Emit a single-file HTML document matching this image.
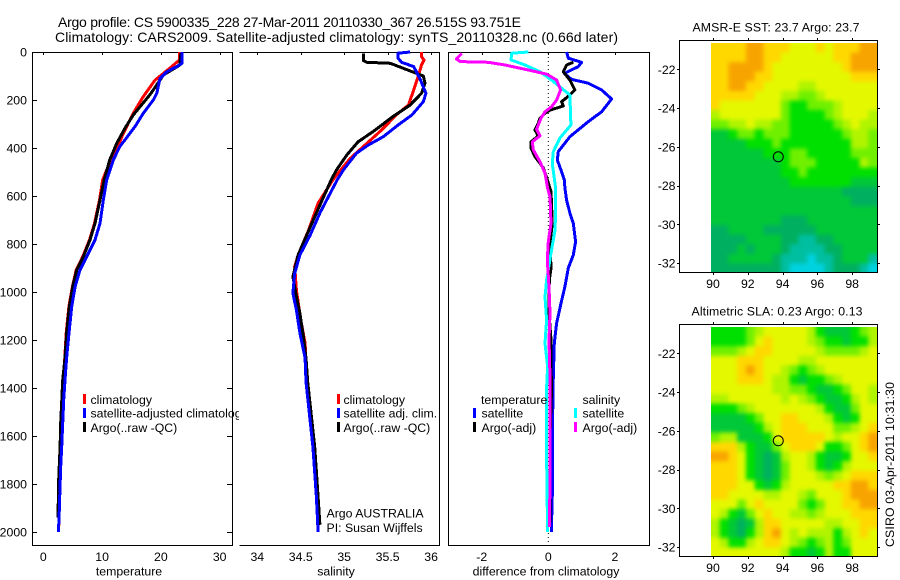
<!DOCTYPE html>
<html lang="en">
<head>
<meta charset="utf-8">
<title>Argo profile</title>
<style>
html,body{margin:0;padding:0;background:#fff;}
svg{display:block;}
text{font-family:"Liberation Sans",sans-serif;font-size:12.3px;fill:#000;}
</style>
</head>
<body>
<svg id="chart" xmlns="http://www.w3.org/2000/svg" width="900" height="580" viewBox="0 0 900 580">
  <defs>
    <clipPath id="legend-clip"><rect x="0" y="380" width="239" height="70"/></clipPath>
    <clipPath id="sst-clip"><rect x="711" y="43" width="166" height="230"/></clipPath>
    <clipPath id="sla-clip"><rect x="711" y="327" width="166" height="230"/></clipPath>
    <filter id="map-smooth" x="-10%" y="-10%" width="120%" height="120%" color-interpolation-filters="sRGB">
      <feGaussianBlur stdDeviation="2.2"/>
    </filter>
  </defs>
  <text x="58" y="27" textLength="463" style="font-size:14px">Argo profile: CS 5900335_228 27-Mar-2011 20110330_367 26.515S 93.751E</text>
  <text x="55" y="42" textLength="563" style="font-size:14px">Climatology: CARS2009. Satellite-adjusted climatology: synTS_20110328.nc (0.66d later)</text>

  <g id="panels"></g>

  <g clip-path="url(#legend-clip)">
    <rect x="83" y="394" width="3" height="10" fill="#f00"/>
    <rect x="83" y="408" width="3" height="10" fill="#00f"/>
    <rect x="83" y="422" width="3" height="10" fill="#000"/>
    <text x="90.5" y="404">climatology</text>
    <text x="90.5" y="417.5">satellite-adjusted climatology</text>
    <text x="90.5" y="432">Argo(..raw -QC)</text>
  </g>
  <g>
    <rect x="337" y="394" width="3" height="10" fill="#f00"/>
    <rect x="337" y="408" width="3" height="10" fill="#00f"/>
    <rect x="337" y="422" width="3" height="10" fill="#000"/>
    <text x="343.5" y="404">climatology</text>
    <text x="343.5" y="417.5">satellite adj. clim.</text>
    <text x="343.5" y="432">Argo(..raw -QC)</text>
  </g>
  <text x="326.5" y="517.5">Argo AUSTRALIA</text>
  <text x="326.5" y="532">PI: Susan Wijffels</text>
  <g>
    <text x="481" y="404">temperature</text>
    <rect x="473" y="408" width="3" height="10" fill="#00f"/>
    <text x="481.5" y="417.5">satellite</text>
    <rect x="473" y="422" width="3" height="10" fill="#000"/>
    <text x="481.5" y="432">Argo(-adj)</text>
    <text x="582.5" y="404">salinity</text>
    <rect x="574" y="408" width="3" height="10" fill="#0ff"/>
    <text x="582.5" y="417.5">satellite</text>
    <rect x="574" y="422" width="3" height="10" fill="#f0f"/>
    <text x="582.5" y="432">Argo(-adj)</text>
  </g>

  <g id="maps"></g>

  <text transform="translate(894,547) rotate(-90)" textLength="165">CSIRO 03-Apr-2011 10:31:30</text>
</svg>

<script>
// ---------- Depth ticks ----------
const depthTicks = [0,200,400,600,800,1000,1200,1400,1600,1800,2000];

// ---------- Temperature panel ----------
const tempTicks = [0,10,20,30];
const tempClimDepth = [0,32,68,117,186,255,339,422,478,533,617,714,783,853,908,978,1061,1171,1275,1400,1600,1800,2000];
const tempClimValue = [23.2,23.2,21.5,19,17,15.3,13.6,12.2,11,10.1,9.55,8.7,7.85,6.7,5.6,4.95,4.35,3.9,3.65,3.3,3,2.8,2.6];
const tempArgoDepth = [5,55,96,137,179,221,262,317,380,450,533,617,714,783,853,908,978,1061,1171,1275,1367,1546,1645,1780,1940];
const tempArgoValue = [23.4,23.2,20.4,19.3,18.1,16.7,15.3,13.9,12.5,11.3,10.35,9.64,8.8,7.94,6.8,5.68,5,4.42,3.97,3.69,3.3,2.96,2.85,2.62,2.5];
const tempSatDepth = [0,47,61,82,110,172,200,255,311,346,395,450,533,617,714,783,853,908,978,1061,1171,1275,1367,1450,1546,1645,1728,1854,1950,2000];
const tempSatValue = [23.6,23.6,22.7,21,19.85,19.3,18.7,17,15.6,14.5,13,11.9,10.78,10.2,9.64,8.8,7.38,6.24,5.4,4.83,4.37,3.97,3.69,3.47,3.3,3.13,2.96,2.79,2.67,2.55];

// ---------- Salinity panel ----------
const salTicks = [34,34.5,35,35.5,36];
const salClimDepth = [0,20,33,54,103,158,221,262,325,394,443,505,533,630,742,846,894,992,1117,1213,1375,1645,1854,2000];
const salClimValue = [35.89,35.89,35.92,35.89,35.85,35.8,35.74,35.6,35.43,35.22,35.07,34.93,34.87,34.7,34.59,34.47,34.43,34.45,34.5,34.55,34.57,34.64,34.68,34.7];
const salArgoDepth = [6,36,43,47,68,100,130,172,221,269,332,374,429,492,533,671,762,846,936,1019,1089,1186,1275,1375,1645,1854,1970];
const salArgoValue = [35.22,35.22,35.26,35.53,35.68,35.91,35.93,35.89,35.76,35.56,35.33,35.16,35.03,34.91,34.85,34.68,34.57,34.47,34.41,34.45,34.49,34.53,34.56,34.58,34.66,34.7,34.72];
const salSatDepth = [0,5,26,43,61,110,172,207,262,304,353,387,422,492,533,671,762,846,922,1005,1075,1171,1275,1375,1645,1854,2000];
const salSatValue = [35.76,35.62,35.62,35.66,35.8,35.87,35.94,35.91,35.78,35.62,35.45,35.28,35.14,34.99,34.92,34.72,34.61,34.49,34.43,34.41,34.45,34.49,34.55,34.56,34.64,34.68,34.7];

// ---------- Difference panel ----------
const diffTicks = [-2,0,2];
const diffTempSatDepth = [0,26,43,61,89,114,130,158,196,249,290,353,415,450,499,533,567,617,671,714,790,846,900,978,1047,1130,1213,1353,1600,1800,2000];
const diffTempSatValue = [0.55,0.6,1,0.9,0.48,0.7,1.2,1.6,1.9,1.6,1.2,0.65,0.3,0.27,0.4,0.48,0.5,0.55,0.65,0.75,0.82,0.75,0.6,0.5,0.38,0.25,0.18,0.15,0.12,0.13,0.09];
const diffTempArgoDepth = [43,54,82,117,158,179,207,225,242,255,276,297,325,350,374,401,436,483,546,582,714,796,900,950,1088,1200,1311,1400,1600,1960];
const diffTempArgoValue = [0.75,0.55,0.45,0.65,0.8,0.65,0.4,0.45,0.05,-0.1,-0.25,-0.3,-0.4,-0.3,-0.52,-0.52,-0.4,-0.15,0,0.08,0.12,0.05,0.08,0.03,0.02,0.08,0.08,0.1,0.05,0.05];
const diffSalSatDepth = [0,5,33,54,82,117,179,304,358,415,464,567,671,742,838,950,1020,1117,1213,1311,1400,1690,2000];
const diffSalSatValue = [-0.6,-1.1,-1.12,-0.7,-0.25,0.1,0.65,0.68,0.35,0.15,0.12,0.22,0.22,0.2,0.08,-0.05,-0.1,-0.05,-0.1,-0.02,-0.05,-0.05,-0.02];
const diffSalArgoDepth = [6,29,40,43,54,75,92,117,158,200,228,249,276,322,349,374,408,457,505,567,603,714,790,867,978,1089,1200,1353,1600,1800,1980];
const diffSalArgoValue = [-2.6,-2.76,-2.64,-1.8,-1.3,-0.6,-0.05,0.25,0.37,0.25,0.1,-0.1,-0.22,-0.35,-0.25,-0.48,-0.45,-0.25,-0.1,-0.02,0.05,0.08,0,-0.03,0.02,0.05,0.02,0.05,0.05,0.05,0.03];

// ---------- Map axes ----------
const lonTicks = [90,92,94,96,98];
const latTicks = [-22,-24,-26,-28,-30,-32];
const floatLon = [93.751];
const floatLat = [-26.515];

// ---------- Map values (colour level 0 = coolest/lowest, 9 = warmest/highest) ----------
const levelColors = ['#00d2e0','#00bea0','#00b060','#00c838','#00e000','#70f000','#b0f400','#e4f800','#ffd800','#f8a400'];
const sstGrid = [
[8,8,8,8,9,9,8,8,8,7,7,7,8,7,8,8,8,9,9],
[8,8,8,8,9,9,8,8,7,7,7,7,7,7,8,8,9,9,9],
[8,8,9,9,9,9,8,7,7,7,7,7,7,7,7,8,9,9,9],
[8,8,9,9,9,8,8,7,7,7,7,7,7,7,7,7,8,8,8],
[8,8,9,9,8,8,7,7,7,7,6,6,7,7,7,7,7,7,7],
[8,8,8,8,8,7,7,7,6,6,5,5,6,7,7,7,7,7,7],
[8,7,7,7,7,7,7,7,5,4,4,5,5,5,6,7,7,7,7],
[6,7,7,7,7,7,7,7,5,4,4,4,4,5,6,7,7,7,6],
[5,5,6,6,7,6,6,5,5,4,4,4,4,4,5,6,7,6,6],
[3,3,4,5,5,4,5,5,5,4,4,4,4,4,4,5,6,6,5],
[3,3,3,3,4,4,4,5,4,4,4,4,4,4,4,4,6,6,5],
[3,3,3,3,3,3,4,4,4,5,5,4,4,4,4,4,5,5,5],
[3,3,3,3,3,3,3,3,4,5,5,5,4,4,4,4,4,6,5],
[3,3,3,3,3,3,3,3,4,4,5,4,4,4,4,4,4,4,4],
[3,3,3,3,3,3,3,3,3,4,4,4,4,4,4,4,3,3,3],
[3,3,3,3,3,3,3,3,3,3,3,3,3,3,3,2,2,2,2],
[3,3,3,3,3,3,3,3,3,3,3,3,3,3,3,3,2,2,2],
[3,3,3,3,3,3,3,3,3,3,3,3,3,3,3,3,3,3,3],
[3,3,3,3,3,3,3,3,2,2,2,3,3,3,3,3,3,3,3],
[2,2,3,3,3,3,2,2,2,2,2,2,3,3,3,3,3,3,3],
[2,2,2,2,3,3,3,3,2,2,1,1,2,2,3,3,3,3,3],
[2,2,2,3,2,3,3,3,2,1,1,1,1,2,2,3,3,3,3],
[2,2,3,3,3,3,3,2,1,1,1,0,1,1,2,3,3,3,1],
[2,2,2,2,2,2,2,2,1,0,0,0,0,1,2,2,2,1,0]
];
const slaGrid = [
[4,4,4,4,5,6,7,7,7,7,7,6,4,3,3,3,4,5,6],
[4,4,4,4,5,7,8,7,7,7,7,6,5,4,4,3,4,4,6],
[5,5,5,6,7,8,8,7,7,7,7,7,6,5,5,5,5,6,7],
[7,7,7,8,8,8,7,7,7,7,6,6,7,7,7,7,7,7,7],
[7,7,7,8,9,8,7,7,6,5,4,5,6,7,7,7,7,7,7],
[7,7,7,8,8,8,7,6,6,4,3,4,4,5,6,7,7,7,7],
[7,7,7,7,7,7,7,6,6,5,5,4,3,3,4,5,7,7,6],
[6,6,7,7,7,7,7,7,6,7,6,5,4,3,3,4,6,7,6],
[4,4,4,5,6,7,7,7,7,7,7,7,6,4,3,3,5,7,7],
[3,3,3,3,4,5,7,7,8,8,7,7,7,6,4,3,4,7,7],
[3,3,3,3,3,4,6,7,8,8,8,7,7,7,5,5,6,7,8],
[5,6,6,3,3,3,4,7,8,8,8,8,8,7,6,7,7,8,9],
[8,8,8,6,4,3,3,5,7,8,8,8,7,4,4,5,7,8,9],
[9,9,8,7,4,3,2,3,6,7,7,6,4,3,3,4,7,7,8],
[8,8,8,7,4,3,2,3,5,7,7,6,4,3,4,6,7,7,7],
[8,8,8,7,4,3,2,3,5,7,7,7,6,5,6,7,8,8,8],
[8,8,8,7,7,4,3,4,6,7,7,7,7,7,8,8,9,9,8],
[8,8,7,7,7,7,6,6,7,7,6,5,7,7,7,8,9,9,9],
[7,7,7,5,7,8,7,7,7,7,5,4,5,7,7,8,8,9,9],
[7,6,4,3,5,7,8,7,7,6,6,5,6,7,7,7,8,8,8],
[6,4,3,2,3,6,8,8,7,7,7,7,7,6,6,7,7,8,8],
[6,4,3,2,4,6,8,9,7,6,7,6,6,6,4,6,7,8,7],
[7,6,4,4,6,7,8,8,7,6,5,4,5,6,4,5,7,7,7],
[7,7,7,7,7,7,7,7,6,4,4,3,4,6,4,4,7,7,7]
];

// ---------- Drawing ----------
const NS = 'http://www.w3.org/2000/svg';
function mk(parent, tag, attrs, txt) {
  const el = document.createElementNS(NS, tag);
  for (const k in attrs) el.setAttribute(k, attrs[k]);
  if (txt !== undefined) el.textContent = txt;
  parent.appendChild(el);
  return el;
}
const depthY = d => 52 + 0.24 * d;
const tempX = v => 43.3 + 5.88 * v;
const salX = v => 257.3 + 86.9 * (v - 34);
const diffX = v => 548.3 + 33.3 * v;
const panelsG = document.getElementById('panels');
const mapsG = document.getElementById('maps');

function seg(g, x1, y1, x2, y2) {
  mk(g, 'line', {x1:x1, y1:y1, x2:x2, y2:y2, stroke:'#000', 'stroke-width':1, 'shape-rendering':'crispEdges'});
}
function tickFmt(v) { return String(v); }

function drawPanel(name, left, right, xFn, ticks, axisLabel, labelX, drawLeft) {
  const g = mk(panelsG, 'g', {});
  
  
  seg(g, left + .5, 52.5, right + .5, 52.5);
  seg(g, left + .5, 545.5, right + .5, 545.5);
  seg(g, right + .5, 52, right + .5, 546);
  if (drawLeft) seg(g, left + .5, 52, left + .5, 546);
  ticks.forEach(t => {
    const x = Math.round(xFn(t)) + .5;
    seg(g, x, 52, x, 55);
    const lab = mk(g, 'text', {x:xFn(t), y:561, 'text-anchor':'middle'}, tickFmt(t));
    
    
  });
  const title = mk(g, 'text', {x:labelX, y:575.5, 'text-anchor':'middle'}, axisLabel);
  
  
  return g;
}
function drawLine(name, depth, values, xFn, color) {
  const pts = depth.map((d, i) => xFn(values[i]).toFixed(1) + ',' + depthY(d).toFixed(1)).join(' ');
  const line = mk(panelsG, 'polyline', {points:pts, fill:'none', stroke:color, 'stroke-width':3, 'stroke-linejoin':'round', 'shape-rendering':'crispEdges'});
  
  
}

const g1 = drawPanel('temperature-panel', 32, 232, tempX, tempTicks, 'temperature', 129, true);
depthTicks.forEach(d => {
  const y = Math.round(depthY(d)) + .5;
  seg(g1, 32, y, 37, y);
  seg(g1, 227, y, 232, y);
  const lab = mk(g1, 'text', {x:27, y:depthY(d) + 4.5, 'text-anchor':'end'}, String(d));
  
  
});
drawPanel('salinity-panel', 239, 439, salX, salTicks, 'salinity', 336, false);
drawPanel('difference-panel', 448, 649, diffX, diffTicks, 'difference from climatology', 546, true);

const zero = mk(panelsG, 'line', {x1:diffX(0), y1:53, x2:diffX(0), y2:545, stroke:'#000', 'stroke-width':1, 'stroke-dasharray':'1 3'});



drawLine('temperature-climatology-line', tempClimDepth, tempClimValue, tempX, '#f00');
drawLine('temperature-argo-line', tempArgoDepth, tempArgoValue, tempX, '#000');
drawLine('temperature-satellite-line', tempSatDepth, tempSatValue, tempX, '#00f');
drawLine('salinity-climatology-line', salClimDepth, salClimValue, salX, '#f00');
drawLine('salinity-argo-line', salArgoDepth, salArgoValue, salX, '#000');
drawLine('salinity-satellite-line', salSatDepth, salSatValue, salX, '#00f');
drawLine('difference-temperature-satellite-line', diffTempSatDepth, diffTempSatValue, diffX, '#00f');
drawLine('difference-temperature-argo-line', diffTempArgoDepth, diffTempArgoValue, diffX, '#000');
drawLine('difference-salinity-satellite-line', diffSalSatDepth, diffSalSatValue, diffX, '#0ff');
drawLine('difference-salinity-argo-line', diffSalArgoDepth, diffSalArgoValue, diffX, '#f0f');

function drawMap(name, grid, clipId, top, bottom, imgTop, lat22, titleText, titleX, titleY, titleLen) {
  const g = mk(mapsG, 'g', {});
  
  
  const left = 679, right = 877, imgL = 711, imgR = 877, pad = 10;
  const lonX = v => 713 + 17.4 * (v - 90);
  const latY = v => lat22 + 19.37 * (-22 - v);
  const rows = grid.length, cols = grid[0].length;
  const cw = (imgR - imgL) / cols, ch = (bottom + 1 - imgTop) / rows;
  const clipG = mk(g, 'g', {'clip-path':'url(#' + clipId + ')'});
  const cellsG = mk(clipG, 'g', {filter:'url(#map-smooth)'});
  grid.forEach((row, r) => row.forEach((v, c) => {
    let x0 = imgL + c * cw, x1 = x0 + cw + .4, y0 = imgTop + r * ch, y1 = y0 + ch + .4;
    if (c === 0) x0 -= pad;
    if (c === cols - 1) x1 += pad;
    if (r === 0) y0 -= pad;
    if (r === rows - 1) y1 += pad;
    const cell = mk(cellsG, 'rect', {x:x0.toFixed(2), y:y0.toFixed(2), width:(x1 - x0).toFixed(2), height:(y1 - y0).toFixed(2), fill:levelColors[v]});
    
    
  }));
  seg(g, left + .5, top + .5, right + .5, top + .5);
  seg(g, left + .5, bottom + .5, right + .5, bottom + .5);
  seg(g, left + .5, top, left + .5, bottom + 1);
  seg(g, right + .5, top, right + .5, bottom + 1);
  lonTicks.forEach(t => {
    const x = Math.round(lonX(t)) + .5;
    seg(g, x, top - 2, x, top);
    seg(g, x, bottom, x, bottom + 3);
    const lab = mk(g, 'text', {x:lonX(t), y:bottom + 16, 'text-anchor':'middle'}, String(t));
    
    
  });
  latTicks.forEach(t => {
    const y = Math.round(latY(t)) + .5;
    seg(g, left - 2, y, left, y);
    seg(g, right, y, right + 3, y);
    const lab = mk(g, 'text', {x:675.5, y:latY(t) + 4.5, 'text-anchor':'end'}, String(t));
    
    
  });
  const marker = mk(g, 'circle', {cx:lonX(floatLon[0]), cy:latY(floatLat[0]), r:5, fill:'none', stroke:'#000', 'stroke-width':1});
  
  
  const title = mk(g, 'text', {x:titleX, y:titleY, textLength:titleLen}, titleText);
  
  
}
drawMap('sst-map', sstGrid, 'sst-clip', 40, 272, 43, 69.3, 'AMSR-E SST: 23.7 Argo: 23.7', 692.5, 31.5, 167);
drawMap('sla-map', slaGrid, 'sla-clip', 324, 556, 327, 353.3, 'Altimetric SLA: 0.23 Argo: 0.13', 691.5, 315.5, 171);
</script>
</body>
</html>
